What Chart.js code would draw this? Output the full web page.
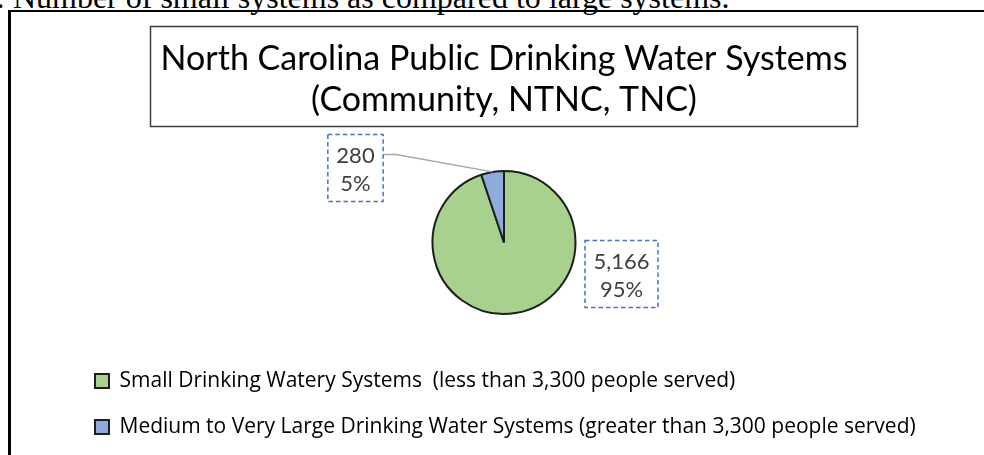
<!DOCTYPE html>
<html>
<head>
<meta charset="utf-8">
<title>NC Public Drinking Water Systems</title>
<script src="https://cdn.jsdelivr.net/npm/chart.js@4.4.1/dist/chart.umd.min.js"></script>
<style>
  html, body { margin: 0; padding: 0; background: #fff; }
  body { width: 984px; height: 455px; position: relative; overflow: hidden; }
  #caption { position: absolute; left: -4px; top: -19px; font: 32px/32px "Liberation Serif", "Times New Roman", serif; color: #000; white-space: nowrap; }
  #frame { position: absolute; left: 8px; top: 10px; width: 1000px; height: 500px; border-left: 3px solid #000; border-top: 2px solid #000; }
  #wrap { position: absolute; left: 70px; top: 0; width: 868px; height: 455px; }
</style>
</head>
<body>
<div id="caption">: Number of small systems as compared to large systems.</div>
<div id="frame"></div>
<div id="wrap"><canvas id="pie-systems"></canvas></div>
<script>
// system counts by size class
const categories = [
  'Small Drinking Watery Systems  (less than 3,300 people served)',
  'Medium to Very Large Drinking Water Systems (greater than 3,300 people served)'
];
const systemCounts = [5166, 280];
const sliceColors = ['#A9D18E', '#8FAADC'];
const titleLines = ['North Carolina Public Drinking Water Systems', '(Community, NTNC, TNC)'];

// where each value box sits, relative to the pie centre
const labelSpots = [
  { dx: 117.5, dy: 31.5, leader: false },
  { dx: -148.5, dy: -74.5, leader: true }
];

// thin frame round the title text
const titleBox = {
  id: 'titleBox',
  afterDraw(chart) {
    const t = chart.titleBlock;
    const opts = chart.options.plugins.title;
    const font = Chart.helpers.toFont(opts.font);
    const ctx = chart.ctx;
    ctx.save();
    ctx.font = font.string;
    let w = 0;
    titleLines.forEach(l => { w = Math.max(w, ctx.measureText(l).width); });
    const cx = (t.left + t.right) / 2;
    const top = t.top + opts.padding.top - 12.5;
    const bottom = t.top + opts.padding.top + titleLines.length * font.lineHeight + 5.5;
    ctx.strokeStyle = '#404040';
    ctx.lineWidth = 1.5;
    ctx.strokeRect(Math.round(cx - w / 2 - 11) + 0.5, Math.round(top) + 0.5, Math.round(w + 20), Math.round(bottom - top));
    ctx.restore();
  }
};

// value + percent boxes with dashed outline
const sliceLabels = {
  id: 'sliceLabels',
  afterDatasetsDraw(chart) {
    const ctx = chart.ctx;
    const meta = chart.getDatasetMeta(0);
    const total = systemCounts.reduce((a, b) => a + b, 0);
    ctx.save();
    ctx.font = '22px Lato';
    meta.data.forEach((arc, i) => {
      const spot = labelSpots[i];
      const p = arc.getProps(['x', 'y', 'outerRadius', 'startAngle', 'endAngle'], true);
      const lines = [systemCounts[i].toLocaleString('en-US'), Math.round(systemCounts[i] / total * 100) + '%'];
      const w = Math.max(...lines.map(l => ctx.measureText(l).width)) + 17;
      const h = 67;
      const cx = p.x + spot.dx, cy = p.y + spot.dy;
      const bx = cx - w / 2, by = cy - h / 2;
      if (spot.leader) {
        const mid = (p.startAngle + p.endAngle) / 2;
        const ex = p.x + Math.cos(mid) * p.outerRadius;
        const ey = p.y + Math.sin(mid) * p.outerRadius;
        ctx.strokeStyle = '#A6A6A6';
        ctx.lineWidth = 1.3;
        ctx.setLineDash([]);
        ctx.beginPath();
        ctx.moveTo(bx + w, by + 20);
        ctx.lineTo(bx + w + 13, by + 20);
        ctx.lineTo(ex, ey);
        ctx.stroke();
      }
      ctx.setLineDash([4.5, 3]);
      ctx.strokeStyle = '#4472C4';
      ctx.lineWidth = 1.5;
      ctx.strokeRect(bx, by, w, h);
      ctx.setLineDash([]);
      ctx.fillStyle = '#404040';
      ctx.textAlign = 'center';
      ctx.textBaseline = 'alphabetic';
      ctx.fillText(lines[0], cx, cy - 5.5);
      ctx.fillText(lines[1], cx, cy + 23);
    });
    ctx.restore();
  }
};

new Chart(document.getElementById('pie-systems'), {
  type: 'pie',
  data: {
    labels: categories,
    datasets: [{
      data: systemCounts,
      backgroundColor: sliceColors,
      borderColor: '#1e1e1e',
      borderWidth: 2,
      radius: 71.5
    }]
  },
  options: {
    responsive: true,
    maintainAspectRatio: false,
    animation: false,
    events: [],
    layout: { padding: { top: 0, bottom: 7.5, left: 0, right: 0 } },
    plugins: {
      tooltip: { enabled: false },
      title: {
        display: true,
        text: titleLines,
        color: '#000',
        font: { family: 'Lato', size: 34, weight: 'normal', lineHeight: 41 / 34 },
        padding: { top: 38.5, bottom: 19 }
      },
      legend: {
        position: 'bottom',
        align: 'start',
        labels: {
          color: '#000',
          font: { family: 'Open Sans', size: 21 },
          boxWidth: 14,
          boxHeight: 14,
          padding: 25
        }
      }
    }
  },
  plugins: [titleBox, sliceLabels]
});
</script>
</body>
</html>
